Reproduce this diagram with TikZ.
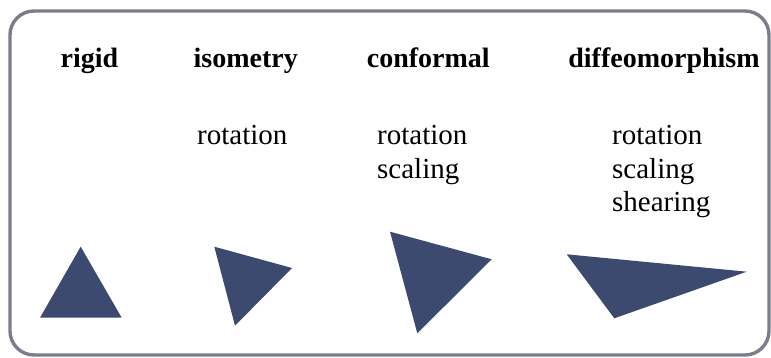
\documentclass[tikz,border=0pt]{standalone}
\usepackage{fontspec}
\setmainfont{Liberation Serif}
\usepackage{xcolor}
\usepackage{tikz}
\usetikzlibrary{positioning}
\definecolor{framegray}{HTML}{7A7D8C}
\definecolor{shapeblue}{HTML}{3D4A70}
\tikzset{
  % --- panel -----------------------------------------------------------------
  frame/.style={draw=framegray,line width=3.4pt,rounded corners=24pt},
  % --- texts -----------------------------------------------------------------
  head/.style={anchor=base,inner sep=0pt,font=\fontsize{28}{34}\selectfont\bfseries},
  % base of a multi-line node is its last line
  dof/.style={anchor=base west,inner sep=0pt,align=left,
              font=\fontsize{29}{33.5}\selectfont},
  % --- shapes ----------------------------------------------------------------
  tri/.style={fill=shapeblue},
}

\begin{document}
\begin{tikzpicture}[x=1pt, y=-1pt]
  \useasboundingbox (0,0) rectangle (771,358);

  \draw[frame] (10,11) rectangle (769,355);

  \node[head] (h1) at (89.5,68)  {rigid};
  \node[head] (h2) at (245.7,68) {isometry};
  \node[head] (h3) at (428.3,68) {conformal};
  \node[head] (h4) at (664,68)   {diffeomorphism};

  \node[dof] (d2) at (197,145)   {rotation};
  \node[dof] (d3) at (377,178.5) {rotation\\scaling};
  \node[dof] (d4) at (612,212)   {rotation\\scaling\\shearing};

  \fill[tri] (80.7,246.7) -- (121.7,317.7) -- (40,317.7) -- cycle;
  \fill[tri] (214.3,246.7) -- (292,268) -- (235,325.7) -- cycle;
  \fill[tri] (390,231.7) -- (491.7,259.3) -- (417.3,333.3) -- cycle;
  \fill[tri] (566.7,254.3) -- (746.7,271.7) -- (614.3,318.3) -- cycle;
\end{tikzpicture}
\end{document}
